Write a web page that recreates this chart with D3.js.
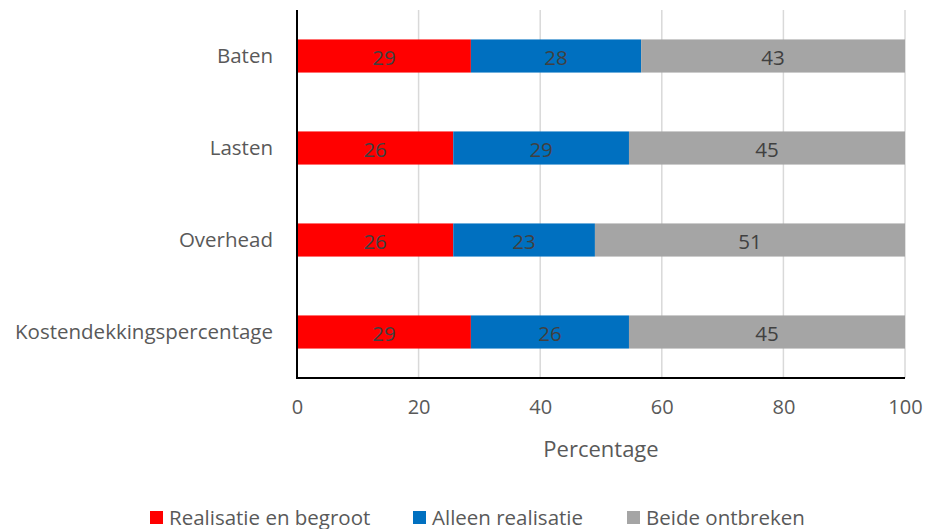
<!DOCTYPE html>
<html><head><meta charset="utf-8">
<script src="https://cdn.jsdelivr.net/npm/d3@7"></script>
<style>body{margin:0;background:#fff}svg{display:block;font-family:"Open Sans",sans-serif}</style>
</head><body><svg id="c" width="925" height="529"></svg>
<script>
const categories = ["Baten","Lasten","Overhead","Kostendekkingspercentage"];
const seriesNames = ["Realisatie en begroot","Alleen realisatie","Beide ontbreken"];
const realisatieEnBegroot = [28.6, 25.7, 25.7, 28.6];
const alleenRealisatie = [28.0, 28.9, 23.3, 26.0];
const beideOntbreken = [43.4, 45.4, 51.0, 45.4];
const xTicks = [0,20,40,60,80,100];
const colors = ["#FF0000","#0070C0","#A5A5A5"];

const svg = d3.select("#c");
const L=297,R=905,T=10,B=378;
const x = d3.scaleLinear().domain([0,100]).range([L,R]);
const y = d3.scaleBand().domain(categories).range([T,B]).paddingInner(0.64).paddingOuter(0.32);
const textCol="#595959";

// gridlines
svg.append("g").selectAll("line").data(xTicks.filter(d=>d>0)).join("line")
  .attr("x1",d=>x(d)).attr("x2",d=>x(d)).attr("y1",T).attr("y2",B)
  .attr("stroke","#D9D9D9").attr("stroke-width",1.5);

const rows = categories.map((c,i)=>({cat:c, vals:[realisatieEnBegroot[i],alleenRealisatie[i],beideOntbreken[i]]}));
const segs=[];
rows.forEach(r=>{let acc=0;r.vals.forEach((v,j)=>{segs.push({cat:r.cat,x0:acc,x1:acc+v,v,j});acc+=v;});});

svg.append("g").selectAll("rect").data(segs).join("rect")
  .attr("x",d=>x(d.x0)).attr("width",d=>x(d.x1)-x(d.x0))
  .attr("y",d=>y(d.cat)).attr("height",y.bandwidth())
  .attr("fill",d=>colors[d.j]);

svg.append("g").selectAll("text").data(segs).join("text")
  .attr("x",d=>(x(d.x0)+x(d.x1))/2).attr("y",d=>y(d.cat)+y.bandwidth()/2+1)
  .attr("text-anchor","middle").attr("dominant-baseline","central")
  .attr("font-size",20.5).attr("fill","#404040").text(d=>Math.round(d.v));

// axes
const xAxis = d3.axisBottom(x).tickValues(xTicks).tickSize(0).tickPadding(22);
const gx = svg.append("g").attr("transform",`translate(0,${B})`).call(xAxis);
gx.select(".domain").remove();
gx.selectAll("text").attr("font-size",20).attr("fill",textCol).attr("font-family","Open Sans");
const yAxis = d3.axisLeft(y).tickSize(0).tickPadding(24);
const gy = svg.append("g").attr("transform",`translate(${L},0)`).call(yAxis);
gy.select(".domain").remove();
gy.selectAll("text").attr("font-size",20.5).attr("fill",textCol).attr("font-family","Open Sans");

svg.append("line").attr("x1",L).attr("x2",L).attr("y1",T).attr("y2",B+1).attr("stroke","#000").attr("stroke-width",2);
svg.append("line").attr("x1",L-1).attr("x2",R).attr("y1",B).attr("y2",B).attr("stroke","#000").attr("stroke-width",2);

svg.append("text").attr("x",(L+R)/2).attr("y",457).attr("text-anchor","middle")
  .attr("font-size",22).attr("fill",textCol).text("Percentage");

// legend
const legX=[150,413,627];
const lg = svg.append("g").selectAll("g").data(seriesNames).join("g")
  .attr("transform",(d,i)=>`translate(${legX[i]},511)`);
lg.append("rect").attr("width",13).attr("height",13).attr("fill",(d,i)=>colors[i]);
lg.append("text").attr("x",19).attr("y",13.5).attr("font-size",20.5).attr("fill",textCol).text(d=>d);
</script></body></html>
